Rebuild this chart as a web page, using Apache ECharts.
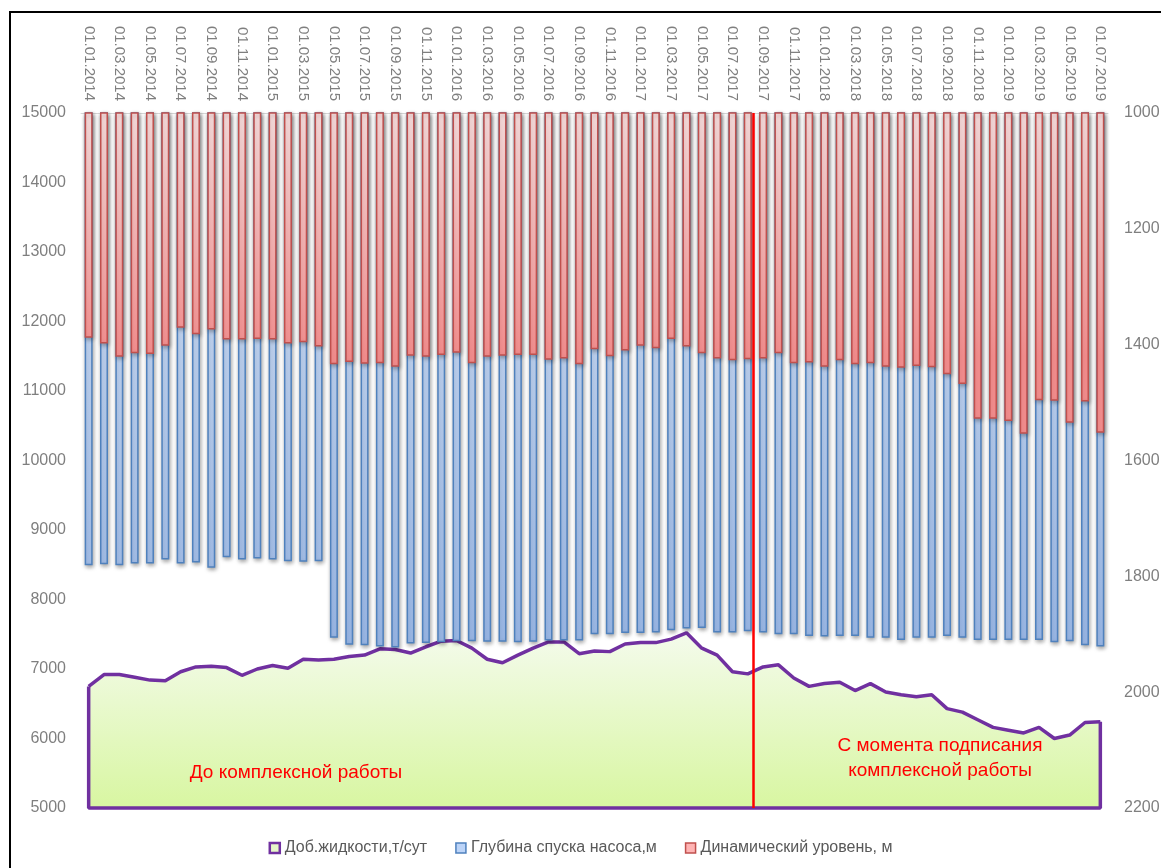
<!DOCTYPE html>
<html>
<head>
<meta charset="utf-8">
<title>Добыча жидкости, глубина спуска насоса и динамический уровень</title>
<script src="https://cdn.jsdelivr.net/npm/echarts@6/dist/echarts.min.js"></script>
<style>
  html, body { margin: 0; padding: 0; background: #fff; }
  #chart { width: 1161px; height: 868px; }
</style>
</head>
<body>
<div id="chart"></div>
<script>
// месяцы (ось X)
const months = [
  '01.01.2014','01.02.2014','01.03.2014','01.04.2014','01.05.2014','01.06.2014','01.07.2014','01.08.2014','01.09.2014','01.10.2014','01.11.2014','01.12.2014',
  '01.01.2015','01.02.2015','01.03.2015','01.04.2015','01.05.2015','01.06.2015','01.07.2015','01.08.2015','01.09.2015','01.10.2015','01.11.2015','01.12.2015',
  '01.01.2016','01.02.2016','01.03.2016','01.04.2016','01.05.2016','01.06.2016','01.07.2016','01.08.2016','01.09.2016','01.10.2016','01.11.2016','01.12.2016',
  '01.01.2017','01.02.2017','01.03.2017','01.04.2017','01.05.2017','01.06.2017','01.07.2017','01.08.2017','01.09.2017','01.10.2017','01.11.2017','01.12.2017',
  '01.01.2018','01.02.2018','01.03.2018','01.04.2018','01.05.2018','01.06.2018','01.07.2018','01.08.2018','01.09.2018','01.10.2018','01.11.2018','01.12.2018',
  '01.01.2019','01.02.2019','01.03.2019','01.04.2019','01.05.2019','01.06.2019','01.07.2019'
];

// Доб.жидкости, т/сут (левая ось)
const liquidRate = [
  6750, 6920, 6920, 6880, 6840, 6830, 6960, 7030, 7040, 7020, 6910, 7000,
  7050, 7010, 7140, 7130, 7140, 7180, 7200, 7290, 7280, 7230, 7320, 7400,
  7410, 7300, 7140, 7090, 7200, 7300, 7390, 7390, 7220, 7260, 7250, 7360,
  7380, 7380, 7430, 7520, 7300, 7200, 6960, 6930, 7030, 7060, 6870, 6750,
  6790, 6810, 6690, 6790, 6670, 6630, 6600, 6630, 6430, 6380, 6270, 6160,
  6120, 6080, 6160, 6000, 6050, 6230, 6240
];

// Глубина спуска насоса, м (правая ось)
const pumpDepth = [
  1781, 1779, 1781, 1778, 1778, 1771, 1778, 1776, 1785, 1767, 1771, 1769,
  1771, 1774, 1775, 1774, 1906, 1918, 1919, 1921, 1923, 1916, 1915, 1914,
  1912, 1912, 1913, 1913, 1914, 1913, 1911, 1911, 1911, 1900, 1900, 1898,
  1898, 1897, 1893, 1890, 1889, 1897, 1897, 1895, 1897, 1900, 1900, 1903,
  1904, 1903, 1903, 1906, 1906, 1910, 1906, 1906, 1903, 1906, 1910, 1910,
  1910, 1910, 1910, 1914, 1912, 1919, 1921
];

// Динамический уровень, м (правая ось)
const dynamicLevel = [
  1388, 1398, 1421, 1415, 1416, 1402, 1371, 1382, 1374, 1391, 1391, 1390,
  1391, 1398, 1396, 1403, 1434, 1430, 1433, 1432, 1438, 1419, 1421, 1418,
  1414, 1432, 1421, 1419, 1418, 1418, 1426, 1424, 1434, 1408, 1420, 1410,
  1402, 1406, 1390, 1403, 1415, 1424, 1427, 1425, 1424, 1415, 1432, 1431,
  1438, 1427, 1434, 1432, 1438, 1440, 1437, 1439, 1451, 1468, 1528, 1528,
  1532, 1554, 1496, 1497, 1535, 1498, 1552
];

// момент подписания комплексной работы (позиция на оси месяцев)
const signPosition = 43.35;

const leftAxis = { min: 5000, max: 15000, interval: 1000 };
const rightAxis = { min: 1000, max: 2200, interval: 200 };

const last = months.length - 1;
const font = "'Liberation Sans', Arial, sans-serif";

const chart = echarts.init(document.getElementById('chart'));

const option = {
  animation: false,
  textStyle: { fontFamily: font },
  grid: { left: 81, right: 53, top: 113, bottom: 60, containLabel: false, outerBoundsMode: 'none' },
  legend: {
    top: 835,
    left: 'center',
    itemWidth: 10,
    itemHeight: 10,
    itemGap: 28,
    textStyle: { color: '#595959', fontSize: 16, fontFamily: font },
    data: [
      { name: 'Доб.жидкости,т/сут', icon: 'rect', itemStyle: { color: '#e6f6c9', borderColor: '#7030a0', borderWidth: 2.5 } },
      { name: 'Глубина спуска насоса,м', icon: 'rect', itemStyle: { color: '#bcd4f8', borderColor: '#4f81bd', borderWidth: 1.5 } },
      { name: 'Динамический уровень, м', icon: 'rect', itemStyle: { color: '#ffb4b4', borderColor: '#c0504d', borderWidth: 1.5 } }
    ]
  },
  xAxis: [
    {
      type: 'category',
      position: 'top',
      data: months,
      boundaryGap: true,
      axisLine: { lineStyle: { color: '#d9d9d9', width: 1 } },
      axisTick: { interval: 1, length: 5, lineStyle: { color: '#d9d9d9' } },
      axisLabel: { interval: 1, rotate: 90, margin: 12, color: '#7f7f7f', fontSize: 15 },
      splitLine: { show: false }
    },
    {
      // вспомогательная ось для вертикальной отметки
      type: 'value',
      min: -0.5,
      max: last + 0.5,
      show: false
    }
  ],
  yAxis: [
    {
      type: 'value',
      min: leftAxis.min,
      max: leftAxis.max,
      interval: leftAxis.interval,
      axisLine: { show: false },
      axisTick: { show: false },
      splitLine: { show: false },
      axisLabel: { color: '#7f7f7f', fontSize: 16, margin: 15, formatter: (v) => String(v) }
    },
    {
      type: 'value',
      position: 'right',
      inverse: true,
      min: rightAxis.min,
      max: rightAxis.max,
      interval: rightAxis.interval,
      axisLine: { show: false },
      axisTick: { show: false },
      splitLine: { show: false },
      axisLabel: { color: '#7f7f7f', fontSize: 16, margin: 16, formatter: (v) => String(v) }
    }
  ],
  series: [
    {
      name: 'Доб.жидкости,т/сут',
      type: 'line',
      yAxisIndex: 0,
      data: liquidRate,
      symbol: 'none',
      z: 1,
      lineStyle: { color: '#7030a0', width: 3.5 },
      itemStyle: { color: '#7030a0' },
      areaStyle: {
        origin: 'start',
        opacity: 1,
        color: new echarts.graphic.LinearGradient(0, 0, 0, 1, [
          { offset: 0, color: '#f4fbec' },
          { offset: 1, color: '#d8f6a1' }
        ])
      }
    },
    {
      // контур области (боковые и нижняя стороны)
      name: 'Доб.жидкости,т/сут',
      type: 'line',
      yAxisIndex: 0,
      data: [[0, liquidRate[0]], [0, leftAxis.min], [last, leftAxis.min], [last, liquidRate[last]]],
      symbol: 'none',
      clip: false,
      z: 1,
      lineStyle: { color: '#7030a0', width: 3.5 },
      itemStyle: { color: '#7030a0' }
    },
    {
      name: 'Глубина спуска насоса,м',
      type: 'bar',
      yAxisIndex: 1,
      data: pumpDepth,
      barWidth: 8,
      barGap: '-100%',
      z: 2,
      itemStyle: {
        color: new echarts.graphic.LinearGradient(0, 113, 0, 808, [
          { offset: 0.3, color: '#c9ddfb' },
          { offset: 0.8, color: '#9ebef1' }
        ], true),
        borderColor: '#4f81bd',
        borderWidth: 1.5,
        shadowColor: 'rgba(0,0,0,0.35)',
        shadowBlur: 4,
        shadowOffsetX: 1,
        shadowOffsetY: 2
      }
    },
    {
      name: 'Динамический уровень, м',
      type: 'bar',
      yAxisIndex: 1,
      data: dynamicLevel,
      barWidth: 8,
      barGap: '-100%',
      z: 3,
      itemStyle: {
        color: new echarts.graphic.LinearGradient(0, 113, 0, 808, [
          { offset: 0, color: '#ffe3e3' },
          { offset: 0.35, color: '#ff9494' }
        ], true),
        borderColor: '#c0504d',
        borderWidth: 1.5,
        shadowColor: 'rgba(0,0,0,0.3)',
        shadowBlur: 4,
        shadowOffsetX: 1,
        shadowOffsetY: 2
      }
    },
    {
      name: 'Подписание',
      type: 'line',
      xAxisIndex: 1,
      yAxisIndex: 0,
      data: [],
      z: 5,
      markLine: {
        silent: true,
        symbol: ['none', 'none'],
        label: { show: false },
        lineStyle: { color: '#ff0000', width: 2.5, type: 'solid' },
        data: [{ xAxis: signPosition }]
      }
    }
  ],
  graphic: [
    {
      type: 'rect',
      shape: { x: 10, y: 12, width: 1200, height: 900 },
      style: { fill: 'none', stroke: '#000', lineWidth: 2 },
      silent: true,
      z: -1
    },
    {
      type: 'text',
      x: 296,
      y: 773,
      style: {
        text: 'До комплексной работы',
        fill: '#ff0000',
        font: '19px ' + font,
        align: 'center',
        verticalAlign: 'middle'
      },
      z: 10
    },
    {
      type: 'text',
      x: 940,
      y: 758,
      style: {
        text: 'С момента подписания\nкомплексной работы',
        fill: '#ff0000',
        font: '19px ' + font,
        align: 'center',
        verticalAlign: 'middle',
        lineHeight: 25
      },
      z: 10
    }
  ]
};

chart.setOption(option);
</script>
</body>
</html>
